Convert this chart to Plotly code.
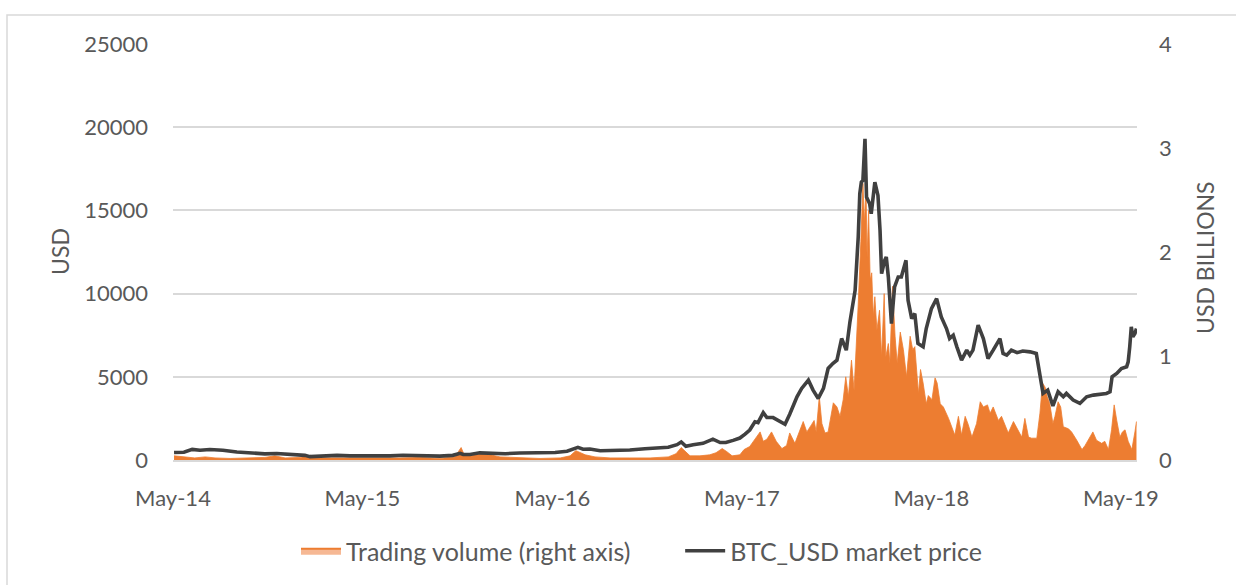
import plotly.graph_objects as go

# ---------------- data ----------------
price_dates = [
    "2014-05-03", "2014-05-22", "2014-06-07", "2014-06-22", "2014-07-11", "2014-08-05",
    "2014-09-01", "2014-09-26", "2014-10-10", "2014-10-25", "2014-11-17", "2014-12-12",
    "2014-12-26", "2015-01-10", "2015-01-20", "2015-02-08", "2015-03-13", "2015-04-07",
    "2015-05-16", "2015-06-23", "2015-07-18", "2015-08-06", "2015-08-26", "2015-09-27",
    "2015-10-22", "2015-11-05", "2015-11-11", "2015-11-24", "2015-12-13", "2016-01-15",
    "2016-01-31", "2016-02-28", "2016-04-07", "2016-05-06", "2016-05-29", "2016-06-19",
    "2016-06-29", "2016-07-12", "2016-08-01", "2016-08-29", "2016-09-27", "2016-10-26",
    "2016-11-18", "2016-12-10", "2016-12-27", "2017-01-04", "2017-01-13", "2017-01-27",
    "2017-02-15", "2017-03-06", "2017-03-20", "2017-03-31", "2017-04-14", "2017-04-27",
    "2017-05-07", "2017-05-16", "2017-05-26", "2017-06-01", "2017-06-11", "2017-06-18",
    "2017-06-30", "2017-07-13", "2017-07-23", "2017-08-01", "2017-08-15", "2017-08-24",
    "2017-09-06", "2017-09-15", "2017-09-25", "2017-10-05", "2017-10-14", "2017-10-23",
    "2017-10-31", "2017-11-09", "2017-11-18", "2017-11-25", "2017-12-05", "2017-12-11",
    "2017-12-14", "2017-12-17", "2017-12-20", "2017-12-24", "2017-12-27", "2018-01-02",
    "2018-01-05", "2018-01-12", "2018-01-18", "2018-01-22", "2018-01-25", "2018-01-31",
    "2018-02-03", "2018-02-07", "2018-02-10", "2018-02-13", "2018-02-19", "2018-02-26",
    "2018-03-04", "2018-03-13", "2018-03-17", "2018-03-24", "2018-03-30", "2018-04-05",
    "2018-04-15", "2018-04-21", "2018-05-01", "2018-05-11", "2018-05-20", "2018-05-30",
    "2018-06-05", "2018-06-12", "2018-06-19", "2018-06-28", "2018-07-08", "2018-07-14",
    "2018-07-20", "2018-07-30", "2018-08-09", "2018-08-18", "2018-08-28", "2018-09-10",
    "2018-09-16", "2018-09-23", "2018-10-02", "2018-10-13", "2018-10-24", "2018-11-07",
    "2018-11-19", "2018-11-26", "2018-12-02", "2018-12-11", "2018-12-21", "2018-12-31",
    "2019-01-10", "2019-01-16", "2019-01-29", "2019-02-11", "2019-02-24", "2019-03-09",
    "2019-03-21", "2019-04-03", "2019-04-10", "2019-04-14", "2019-04-23", "2019-05-02",
    "2019-05-12", "2019-05-15", "2019-05-18", "2019-05-21", "2019-05-24", "2019-05-28",
    "2019-05-31",
]
price_usd = [
    450, 470, 640, 590, 630, 590,
    480, 420, 360, 370, 390, 350,
    320, 280, 200, 230, 280, 250,
    240, 245, 285, 280, 230, 235,
    280, 400, 330, 330, 430, 400,
    380, 420, 420, 450, 530, 760,
    650, 660, 560, 580, 600, 680,
    720, 770, 920, 1080, 820, 920,
    1000, 1250, 1050, 1050, 1180, 1320,
    1550, 1800, 2300, 2250, 2850, 2550,
    2550, 2350, 2150, 2750, 3800, 4300,
    4800, 4200, 3700, 4300, 5500, 5800,
    6000, 7300, 6600, 8300, 10200, 13400,
    16000, 16700, 16800, 19300, 15800, 15400,
    14800, 16700, 15900, 13800, 11200, 12000,
    12200, 11000, 9600, 8200, 10400, 11000,
    11000, 12000, 9600, 8500, 8800, 7000,
    6800, 7900, 9100, 9700, 8600, 7900,
    7300, 7500, 6800, 6000, 6600, 6300,
    6600, 8100, 7300, 6100, 6600, 7300,
    6400, 6300, 6600, 6450, 6550, 6500,
    6400, 5000, 4000, 4200, 3250, 4100,
    3800, 4000, 3600, 3400, 3800, 3900,
    3950, 4000, 4100, 5000, 5200, 5500,
    5600, 5900, 6800, 8000, 7400, 7600,
    7900,
]

volume_dates = [
    "2014-05-03", "2014-05-24", "2014-06-12", "2014-07-02", "2014-07-21", "2014-08-19",
    "2014-09-17", "2014-10-25", "2014-11-13", "2014-12-03", "2015-01-01", "2015-01-20",
    "2015-02-08", "2015-03-19", "2015-04-26", "2015-06-04", "2015-07-12", "2015-08-20",
    "2015-09-27", "2015-10-26", "2015-11-07", "2015-11-13", "2015-11-24", "2015-12-13",
    "2016-01-02", "2016-01-21", "2016-02-28", "2016-04-07", "2016-05-16", "2016-06-04",
    "2016-06-15", "2016-06-23", "2016-07-03", "2016-07-22", "2016-08-20", "2016-09-27",
    "2016-11-05", "2016-12-10", "2016-12-25", "2017-01-04", "2017-01-13", "2017-01-21",
    "2017-02-09", "2017-02-28", "2017-03-12", "2017-03-24", "2017-04-02", "2017-04-12",
    "2017-04-27", "2017-05-05", "2017-05-16", "2017-06-05", "2017-06-11", "2017-06-18",
    "2017-06-27", "2017-07-06", "2017-07-17", "2017-07-26", "2017-08-01", "2017-08-11",
    "2017-08-27", "2017-09-03", "2017-09-12", "2017-09-17", "2017-09-21", "2017-09-27",
    "2017-10-02", "2017-10-08", "2017-10-14", "2017-10-24", "2017-10-31", "2017-11-06",
    "2017-11-12", "2017-11-17", "2017-11-22", "2017-11-28", "2017-12-03", "2017-12-08",
    "2017-12-11", "2017-12-16", "2017-12-20", "2017-12-23", "2017-12-26", "2017-12-28",
    "2017-12-31", "2018-01-03", "2018-01-06", "2018-01-09", "2018-01-12", "2018-01-16",
    "2018-01-21", "2018-01-25", "2018-01-30", "2018-02-02", "2018-02-07", "2018-02-10",
    "2018-02-15", "2018-02-20", "2018-02-24", "2018-03-02", "2018-03-08", "2018-03-14",
    "2018-03-21", "2018-03-26", "2018-03-30", "2018-04-06", "2018-04-10", "2018-04-15",
    "2018-04-21", "2018-04-25", "2018-05-02", "2018-05-08", "2018-05-12", "2018-05-18",
    "2018-05-24", "2018-06-03", "2018-06-09", "2018-06-15", "2018-06-22", "2018-06-28",
    "2018-07-05", "2018-07-11", "2018-07-18", "2018-07-27", "2018-08-03", "2018-08-09",
    "2018-08-17", "2018-08-22", "2018-08-28", "2018-09-07", "2018-09-13", "2018-09-22",
    "2018-09-26", "2018-10-06", "2018-10-15", "2018-10-22", "2018-10-28", "2018-11-04",
    "2018-11-10", "2018-11-20", "2018-11-26", "2018-12-01", "2018-12-06", "2018-12-10",
    "2018-12-15", "2018-12-21", "2018-12-25", "2018-12-31", "2019-01-05", "2019-01-10",
    "2019-01-20", "2019-01-26", "2019-02-05", "2019-02-15", "2019-02-21", "2019-03-03",
    "2019-03-08", "2019-03-15", "2019-03-25", "2019-03-31", "2019-04-07", "2019-04-13",
    "2019-04-18", "2019-04-23", "2019-04-29", "2019-05-04", "2019-05-09", "2019-05-15",
    "2019-05-22", "2019-05-28", "2019-05-31",
]
volume_busd = [
    0.04, 0.03, 0.02, 0.03, 0.02, 0.015,
    0.02, 0.025, 0.04, 0.02, 0.025, 0.045,
    0.02, 0.02, 0.015, 0.015, 0.02, 0.025,
    0.015, 0.03, 0.12, 0.05, 0.04, 0.06,
    0.05, 0.03, 0.02, 0.015, 0.02, 0.04,
    0.09, 0.07, 0.05, 0.03, 0.02, 0.02,
    0.02, 0.03, 0.06, 0.12, 0.08, 0.04,
    0.04, 0.05, 0.07, 0.11, 0.08, 0.04,
    0.05, 0.10, 0.13, 0.27, 0.18, 0.20,
    0.27, 0.18, 0.11, 0.14, 0.26, 0.16,
    0.37, 0.27, 0.34, 0.38, 0.27, 0.61,
    0.35, 0.26, 0.27, 0.55, 0.51, 0.42,
    0.58, 0.80, 0.61, 0.96, 0.67, 1.12,
    1.50, 2.10, 2.66, 2.28, 2.63, 1.95,
    2.40, 1.73, 1.80, 1.38, 1.57, 1.25,
    1.44, 0.99, 1.60, 0.99, 1.12, 0.93,
    1.67, 1.19, 0.93, 1.23, 1.06, 0.80,
    1.19, 1.06, 1.09, 0.64, 0.87, 0.74,
    0.54, 0.62, 0.58, 0.79, 0.74, 0.54,
    0.51, 0.40, 0.32, 0.24, 0.42, 0.24,
    0.42, 0.34, 0.22, 0.35, 0.56, 0.51,
    0.53, 0.45, 0.51, 0.38, 0.42, 0.32,
    0.26, 0.37, 0.29, 0.22, 0.40, 0.22,
    0.21, 0.21, 0.45, 0.74, 0.70, 0.61,
    0.54, 0.35, 0.42, 0.56, 0.51, 0.32,
    0.30, 0.27, 0.19, 0.10, 0.14, 0.22,
    0.27, 0.19, 0.16, 0.18, 0.10, 0.29,
    0.53, 0.38, 0.22, 0.27, 0.29, 0.18,
    0.10, 0.27, 0.37,
]

x_range = ["2014-05-01", "2019-06-01"]
price_ticks = [0, 5000, 10000, 15000, 20000, 25000]
price_tick_labels = ["0", "5000", "10000", "15000", "20000", "25000"]
volume_ticks = [0, 1, 2, 3, 4]

# ---------------- styling ----------------
FONT = "Lato, 'Open Sans', sans-serif"
TEXT = "#595959"
GRID = "#D9D9D9"
ORANGE = "#ED7D31"
LINE = "#404040"

W, H = 1236, 585
ML, MR, MT, MB = 173, 99, 44, 125
PW, PH = W - ML - MR, H - MT - MB


def px_x(p):
    return (p - ML) / PW


def px_y(p):
    return (H - MB - p) / PH


GAP = "\u00a0" * 7

fig = go.Figure()

# volume area (right axis) - on the base subplot so the price line is drawn on top
fig.add_trace(go.Scatter(
    x=volume_dates, y=volume_busd, yaxis="y", mode="lines",
    fill="tozeroy", fillcolor=ORANGE, line=dict(color=ORANGE, width=0.8),
    showlegend=False, hoverinfo="skip",
))
# legend entry for the volume series
fig.add_trace(go.Scatter(
    x=[None], y=[None], yaxis="y", mode="lines", fill="toself",
    fillcolor="#F6B894", line=dict(color=ORANGE, width=2),
    name="Trading volume (right axis)" + GAP,
))
# price line (left axis)
fig.add_trace(go.Scatter(
    x=price_dates, y=price_usd, yaxis="y2", mode="lines",
    line=dict(color=LINE, width=3.6),
    name="BTC_USD market price",
))

fig.update_layout(
    width=W, height=H,
    margin=dict(l=ML, r=MR, t=MT, b=MB, autoexpand=False),
    paper_bgcolor="white", plot_bgcolor="white",
    font=dict(family=FONT, color=TEXT, size=22),
    xaxis=dict(
        type="date", range=x_range,
        tick0="2014-05-01", dtick="M12", tickformat="%b-%y",
        showgrid=False, zeroline=False,
        showline=True, linecolor=GRID, linewidth=1.5,
        ticks="", ticklabelstandoff=18,
        tickfont=dict(size=22, color=TEXT),
    ),
    yaxis=dict(
        side="right", range=[0, 4], tickvals=volume_ticks,
        showgrid=False, zeroline=False, showline=False,
        ticks="", ticklabelstandoff=21,
        tickfont=dict(size=22, color=TEXT),
    ),
    yaxis2=dict(
        overlaying="y", side="left", range=[0, 25000],
        tickvals=price_ticks, ticktext=price_tick_labels,
        showgrid=True, gridcolor=GRID, gridwidth=1.5,
        zeroline=False, showline=False,
        ticks="", ticklabelstandoff=24,
        tickfont=dict(size=22, color=TEXT),
    ),
    legend=dict(
        orientation="h", x=px_x(642), xanchor="center",
        y=px_y(551), yanchor="middle",
        font=dict(size=25, color=TEXT), bgcolor="rgba(0,0,0,0)",
        itemwidth=40, tracegroupgap=0,
    ),
    annotations=[
        dict(text="USD", xref="paper", yref="paper", x=px_x(60), y=px_y(252),
             showarrow=False, textangle=-90, font=dict(size=23, color=TEXT),
             xanchor="center", yanchor="middle"),
        dict(text="USD BILLIONS", xref="paper", yref="paper", x=px_x(1205), y=px_y(258),
             showarrow=False, textangle=-90, font=dict(size=23, color=TEXT),
             xanchor="center", yanchor="middle"),
    ],
    shapes=[
        dict(type="rect", xref="paper", yref="paper",
             x0=px_x(7), x1=px_x(1250), y0=px_y(600), y1=px_y(15),
             line=dict(color=GRID, width=1.5), fillcolor="rgba(0,0,0,0)", layer="below"),
    ],
    showlegend=True,
)

fig.write_html(
    "out.html",
    config={"displayModeBar": False},
    post_script="document.body.style.margin='0';document.body.style.padding='0';",
)
